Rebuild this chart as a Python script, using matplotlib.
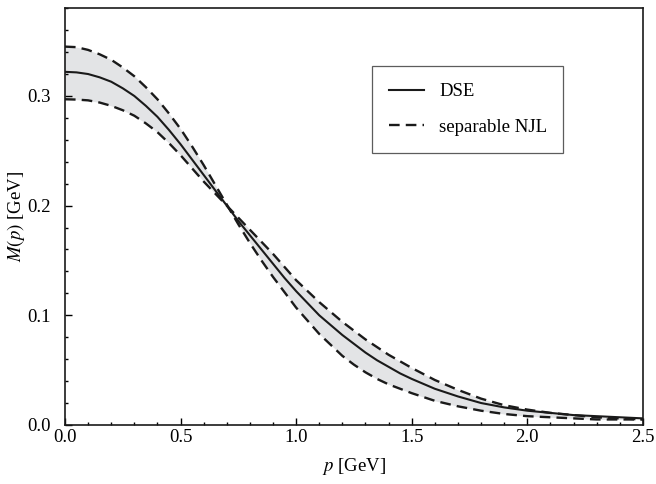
import numpy as np
import matplotlib
matplotlib.use('Agg')
import matplotlib.pyplot as plt
from matplotlib.ticker import MultipleLocator, FormatStrFormatter

plt.rcParams['font.family'] = ['Liberation Serif', 'DejaVu Serif']
plt.rcParams['mathtext.fontset'] = 'stix'

p = [0.00, 0.05, 0.10, 0.15, 0.20, 0.25, 0.30, 0.35, 0.40, 0.45,
     0.50, 0.55, 0.60, 0.65, 0.70, 0.75, 0.80, 0.85, 0.90, 0.95,
     1.00, 1.05, 1.10, 1.15, 1.20, 1.25, 1.30, 1.35, 1.40, 1.45,
     1.50, 1.60, 1.70, 1.80, 1.90, 2.00, 2.10, 2.20, 2.30, 2.40, 2.50]

# DSE mass function
m_dse = [0.322, 0.3215, 0.320, 0.317, 0.313, 0.307, 0.300, 0.291, 0.281, 0.269,
         0.256, 0.242, 0.228, 0.214, 0.200, 0.186, 0.173, 0.160, 0.147, 0.134,
         0.122, 0.111, 0.100, 0.091, 0.082, 0.074, 0.066, 0.059, 0.053, 0.047,
         0.042, 0.033, 0.026, 0.020, 0.016, 0.013, 0.011, 0.009, 0.008, 0.007, 0.006]

# separable NJL, the two parameter sets bounding the band
m_njl_a = [0.345, 0.3445, 0.342, 0.338, 0.333, 0.326, 0.318, 0.308, 0.297, 0.284,
           0.270, 0.254, 0.237, 0.219, 0.201, 0.183, 0.166, 0.150, 0.135, 0.121,
           0.107, 0.095, 0.083, 0.073, 0.063, 0.055, 0.048, 0.042, 0.037, 0.033,
           0.029, 0.022, 0.017, 0.013, 0.010, 0.008, 0.007, 0.006, 0.005, 0.005, 0.005]
m_njl_b = [0.297, 0.2967, 0.296, 0.294, 0.291, 0.287, 0.282, 0.275, 0.267, 0.257,
           0.246, 0.234, 0.222, 0.211, 0.200, 0.189, 0.178, 0.167, 0.156, 0.144,
           0.132, 0.122, 0.112, 0.103, 0.094, 0.086, 0.078, 0.071, 0.064, 0.058,
           0.052, 0.041, 0.032, 0.024, 0.018, 0.014, 0.011, 0.009, 0.007, 0.006, 0.005]

fig = plt.figure(figsize=(6.56, 4.84), dpi=100)
ax = fig.add_axes([0.099, 0.122, 0.881, 0.861])

ax.fill_between(p, m_njl_a, m_njl_b, color='#e3e4e6', lw=0)
ax.plot(p, m_dse, color='#1a1a1a', lw=1.5, label='DSE')
ax.plot(p, m_njl_a, color='#1a1a1a', lw=1.7, dashes=(4.5, 2.6), label='separable NJL')
ax.plot(p, m_njl_b, color='#1a1a1a', lw=1.7, dashes=(4.5, 2.6))

ax.set_xlim(0, 2.5)
ax.set_ylim(0, 0.38)
ax.xaxis.set_major_locator(MultipleLocator(0.5))
ax.xaxis.set_minor_locator(MultipleLocator(0.1))
ax.yaxis.set_major_locator(MultipleLocator(0.1))
ax.yaxis.set_minor_locator(MultipleLocator(0.02))
ax.xaxis.set_major_formatter(FormatStrFormatter('%.1f'))
ax.yaxis.set_major_formatter(FormatStrFormatter('%.1f'))
ax.tick_params(which='both', direction='in', top=False, right=False,
               labelsize=13.5, width=1.0)
ax.tick_params(axis='x', pad=3)
ax.tick_params(axis='y', pad=10)
ax.tick_params(which='major', length=5)
ax.tick_params(which='minor', length=2.5)
for s in ax.spines.values():
    s.set_linewidth(1.2)
    s.set_color('#1a1a1a')

ax.set_xlabel(r'$p$ [GeV]', fontsize=13.5, labelpad=7)
ax.set_ylabel(r'$M(p)$ [GeV]', fontsize=13.5)
ax.yaxis.set_label_coords(-0.066, 0.5)

leg = ax.legend(loc='upper left', bbox_to_anchor=(0.531, 0.861, 0.331, 0.0),
                mode='expand', fontsize=13.5, frameon=True, fancybox=False,
                edgecolor='#333333', handlelength=1.9, handletextpad=0.8,
                labelspacing=1.0, borderpad=0.9, borderaxespad=0.0)
leg.get_frame().set_linewidth(0.9)

fig.savefig('out.png', dpi=100)
